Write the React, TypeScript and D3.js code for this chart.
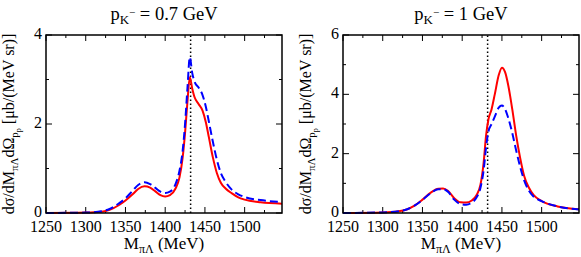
import React from "react";
import * as d3 from "d3";

// M_piLambda (MeV) sample points
const massA = [1250, 1300, 1320, 1330, 1342, 1350, 1359, 1366, 1374, 1381, 1388, 1394, 1400, 1406, 1413, 1418, 1422, 1425, 1428, 1431, 1434, 1437, 1442, 1447, 1451, 1455, 1460, 1465, 1470, 1476, 1484, 1492, 1500, 1520, 1547];
const redA = [0, 0.01, 0.03, 0.07, 0.18, 0.28, 0.42, 0.54, 0.6, 0.57, 0.48, 0.4, 0.37, 0.4, 0.55, 0.8, 1.25, 1.8, 2.5, 3.05, 2.8, 2.6, 2.45, 2.3, 2.05, 1.7, 1.25, 0.9, 0.68, 0.55, 0.44, 0.35, 0.3, 0.24, 0.21];
const blueA = [0, 0.01, 0.04, 0.09, 0.22, 0.33, 0.5, 0.63, 0.69, 0.65, 0.56, 0.48, 0.45, 0.48, 0.65, 0.95, 1.4, 2.0, 2.8, 3.5, 3.15, 2.95, 2.82, 2.65, 2.4, 2.05, 1.6, 1.2, 0.9, 0.7, 0.52, 0.42, 0.36, 0.29, 0.25];

const massB = [1250, 1300, 1320, 1330, 1340, 1350, 1360, 1370, 1376, 1382, 1390, 1398, 1405, 1412, 1418, 1423, 1427, 1430, 1433, 1437, 1441, 1446, 1450, 1454, 1458, 1463, 1468, 1473, 1478, 1484, 1490, 1500, 1520, 1547];
const redB = [0, 0.02, 0.06, 0.12, 0.25, 0.45, 0.68, 0.82, 0.83, 0.75, 0.5, 0.36, 0.35, 0.42, 0.6, 0.95, 1.7, 2.6, 3.15, 3.5, 4.0, 4.65, 4.9, 4.75, 4.3, 3.5, 2.6, 1.85, 1.25, 0.85, 0.6, 0.4, 0.22, 0.13];
const blueB = [0, 0.02, 0.06, 0.12, 0.25, 0.44, 0.66, 0.8, 0.8, 0.72, 0.45, 0.3, 0.28, 0.35, 0.52, 0.85, 1.45, 2.2, 2.75, 3.0, 3.25, 3.55, 3.62, 3.5, 3.2, 2.7, 2.1, 1.55, 1.1, 0.75, 0.55, 0.4, 0.22, 0.12];

const xTicks = [1250, 1300, 1350, 1400, 1450, 1500];
const threshold = 1432;

const W = 581;
const H = 257;
const font = "'Liberation Serif', 'Times New Roman', serif";

type PanelProps = {
  left: number;
  title: string;
  yMax: number;
  mass: number[];
  red: number[];
  blue: number[];
};

const Panel = ({ left, title, yMax, mass, red, blue }: PanelProps) => {
  const top = 35;
  const bottom = 213;
  const width = 236;

  const x = d3.scaleLinear([1250, 1547], [left, left + width]);
  const y = d3.scaleLinear([0, yMax], [bottom, top]);

  const line = d3
    .line<number>()
    .x((_, i) => x(mass[i]))
    .y((d) => y(d))
    .curve(d3.curveMonotoneX);

  const minorX = d3.range(1275, 1547, 50);
  const majorY = d3.range(0, yMax + 0.01, 2);
  const minorY = d3.range(1, yMax, 2);

  const cx = left + width / 2;
  const cy = (top + bottom) / 2;

  return (
    <g>
      {/* x ticks, bottom and top, pointing inward */}
      {xTicks.map((t) => (
        <g key={"mx" + t}>
          <line x1={x(t)} x2={x(t)} y1={bottom} y2={bottom - 6} stroke="black" />
          <line x1={x(t)} x2={x(t)} y1={top} y2={top + 6} stroke="black" />
          <text x={x(t)} y={232} textAnchor="middle" fontSize={16} fontFamily={font}>
            {t}
          </text>
        </g>
      ))}
      {minorX.map((t) => (
        <g key={"nx" + t}>
          <line x1={x(t)} x2={x(t)} y1={bottom} y2={bottom - 3} stroke="black" />
          <line x1={x(t)} x2={x(t)} y1={top} y2={top + 3} stroke="black" />
        </g>
      ))}
      {majorY.map((t) => (
        <g key={"my" + t}>
          <line x1={left} x2={left + 6} y1={y(t)} y2={y(t)} stroke="black" />
          <line x1={left + width} x2={left + width - 6} y1={y(t)} y2={y(t)} stroke="black" />
          <text x={left - 4} y={y(t) + 4} textAnchor="end" fontSize={16} fontFamily={font}>
            {t}
          </text>
        </g>
      ))}
      {minorY.map((t) => (
        <g key={"ny" + t}>
          <line x1={left} x2={left + 3} y1={y(t)} y2={y(t)} stroke="black" />
          <line x1={left + width} x2={left + width - 3} y1={y(t)} y2={y(t)} stroke="black" />
        </g>
      ))}

      {/* threshold */}
      <line
        x1={x(threshold)}
        x2={x(threshold)}
        y1={bottom}
        y2={top}
        stroke="black"
        strokeWidth={1.5}
        strokeDasharray="1.5,2.5"
      />

      <path d={line(red) ?? ""} fill="none" stroke="#ff0000" strokeWidth={2} />
      <path
        d={line(blue) ?? ""}
        fill="none"
        stroke="#0000ff"
        strokeWidth={2}
        strokeDasharray="8,4"
      />

      <rect x={left} y={top} width={width} height={bottom - top} fill="none" stroke="black" strokeWidth={1.5} />

      {/* title */}
      <text x={cx} y={20} textAnchor="middle" fontSize={18.5} fontFamily={font}>
        p
        <tspan fontSize={13} dy={4}>K</tspan>
        <tspan fontSize={11} dy={-8}>−</tspan>
        <tspan dy={4}>{" " + title}</tspan>
      </text>

      {/* x label */}
      <text x={cx} y={249} textAnchor="middle" fontSize={17} fontFamily={font}>
        M
        <tspan fontSize={12} dy={4}>πΛ</tspan>
        <tspan dy={-4}> (MeV)</tspan>
      </text>

      {/* y label */}
      <text
        transform={`translate(${left - 32},${cy}) rotate(-90)`}
        textAnchor="middle"
        fontSize={16}
        fontFamily={font}
      >
        dσ/dM
        <tspan fontSize={11} dy={4}>πΛ</tspan>
        <tspan dy={-4}>dΩ</tspan>
        <tspan fontSize={11} dy={4}>p</tspan>
        <tspan fontSize={8} dy={3}>p</tspan>
        <tspan dy={-7}>{"  [μb/(MeV sr)]"}</tspan>
      </text>
    </g>
  );
};

export default function App() {
  return (
    <svg
      width={W}
      height={H}
      style={{ position: "absolute", left: 0, top: 0, background: "white" }}
    >
      <Panel left={46} title="= 0.7 GeV" yMax={4} mass={massA} red={redA} blue={blueA} />
      <Panel left={343} title="= 1 GeV" yMax={6} mass={massB} red={redB} blue={blueB} />
    </svg>
  );
}
